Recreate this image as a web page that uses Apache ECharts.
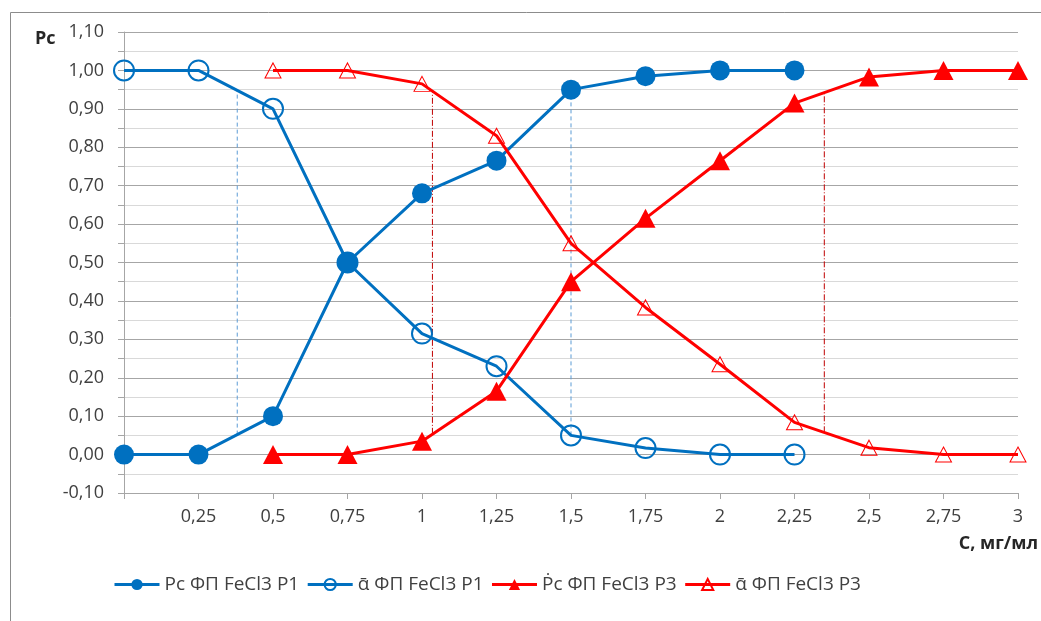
<!DOCTYPE html>
<html><head><meta charset="utf-8">
<script src="https://cdn.jsdelivr.net/npm/echarts@6/dist/echarts.min.js"></script>
<style>html,body{margin:0;padding:0;background:#fff}#c{width:1041px;height:621px}</style>
</head><body><div id="c"></div>
<script>
const xValues = [0,0.25,0.5,0.75,1,1.25,1.5,1.75,2,2.25,2.5,2.75,3];
const pcP1    = [0,0,0.10,0.50,0.68,0.765,0.95,0.985,1.0,1.0,null,null,null];
const alphaP1 = [1,1,0.90,0.50,0.315,0.23,0.05,0.017,0,0,null,null,null];
const pcP3    = [null,null,0,0,0.035,0.165,0.45,0.615,0.765,0.915,0.983,1.0,1.0];
const alphaP3 = [null,null,1,1,0.965,0.83,0.55,0.383,0.235,0.084,0.018,0,0];
const seriesNames = ['Pc ФП FeCl3 P1','ᾱ ФП FeCl3 P1','Ṗc ФП FeCl3 P3','ᾱ ФП FeCl3 P3'];
const dashX      = [0.38,1.035,1.5,2.35];
const dashBottom = [0.052,0.054,0.05,0.058];
const dashTop    = [0.948,0.946,0.95,0.943];
const dashKind   = ['blue','red','blue','red'];
const yAxisTitle = 'Рс';
const xAxisTitle = 'C, мг/мл';

const FONT = 'Open Sans';
const BLUE = '#0070C0', RED = '#FF0000';
const pairs = arr => xValues.map((x,i)=>[x,arr[i]]).filter(p=>p[1]!==null);

const dashSeries = dashX.map((x,i)=>({
  type:'line', silent:true, symbol:'none', z:1, clip:false,
  data:[[x,dashBottom[i]],[x,dashTop[i]]],
  lineStyle: dashKind[i]==='blue'
    ? {color:'#5B9BD5', width:1, type:[4,3]}
    : {color:'#C00000', width:1, type:[6,2,1,2]}
}));

const chart = echarts.init(document.getElementById('c'), null, {renderer:'canvas'});
chart.setOption({
  animation:false,
  textStyle:{fontFamily:FONT},
  grid:{left:124, right:23, top:32, bottom:128, containLabel:false},
  legend:{
    data:seriesNames, top:570, left:108,
    itemWidth:45, itemHeight:14, itemGap:7,
    lineStyle:{width:3},
    textStyle:{fontFamily:FONT, fontSize:19, color:'#404040'}
  },
  graphic:[
    {type:'rect', shape:{x:10.5,y:12.5,width:1200,height:800}, style:{fill:'none', stroke:'#8c8c8c', lineWidth:1}, silent:true},
    {type:'text', left:35, top:30, style:{text:yAxisTitle, font:'bold 18px '+FONT, fill:'#262626'}},
    {type:'text', right:3, top:535, style:{text:xAxisTitle, font:'bold 18px '+FONT, fill:'#262626'}}
  ],
  xAxis:{
    type:'value', min:0, max:3, interval:0.25,
    axisLine:{show:true, onZero:false, lineStyle:{color:'#a6a6a6'}},
    axisTick:{show:true, length:6, lineStyle:{color:'#a6a6a6'}},
    splitLine:{show:false},
    axisLabel:{margin:15, fontSize:18, color:'#404040', fontFamily:FONT,
      formatter:v=> v===0 ? '' : String(v).replace('.',',')}
  },
  yAxis:{
    type:'value', min:-0.1, max:1.1, interval:0.1,
    axisLine:{show:true, lineStyle:{color:'#a6a6a6'}},
    axisTick:{show:true, length:6, lineStyle:{color:'#a6a6a6'}},
    minorTick:{show:true, splitNumber:2, length:6, lineStyle:{color:'#a6a6a6'}},
    splitLine:{show:true, lineStyle:{color:'#a6a6a6', width:1}},
    minorSplitLine:{show:true, lineStyle:{color:'#d9d9d9', width:1}},
    axisLabel:{margin:20, fontSize:18, color:'#404040', fontFamily:FONT,
      formatter:v=> v.toFixed(2).replace('.',',')}
  },
  series:[
    ...dashSeries,
    {name:seriesNames[0], type:'line', data:pairs(pcP1), z:3, clip:false,
     symbol:'circle', symbolSize:20,
     lineStyle:{color:BLUE, width:3}, itemStyle:{color:BLUE}},
    {name:seriesNames[1], type:'line', data:pairs(alphaP1), z:3, clip:false,
     symbol:'circle', symbolSize:20,
     lineStyle:{color:BLUE, width:3}, itemStyle:{color:'rgba(255,255,255,0)', borderColor:BLUE, borderWidth:2}},
    {name:seriesNames[2], type:'line', data:pairs(pcP3), z:4, clip:false,
     symbol:'triangle', symbolSize:[20,19],
     lineStyle:{color:RED, width:3}, itemStyle:{color:RED}},
    {name:seriesNames[3], type:'line', data:pairs(alphaP3), z:4, clip:false,
     symbol:'triangle', symbolSize:[16,15],
     lineStyle:{color:RED, width:3}, itemStyle:{color:'rgba(255,255,255,0)', borderColor:RED, borderWidth:1}}
  ]
});
</script></body></html>
